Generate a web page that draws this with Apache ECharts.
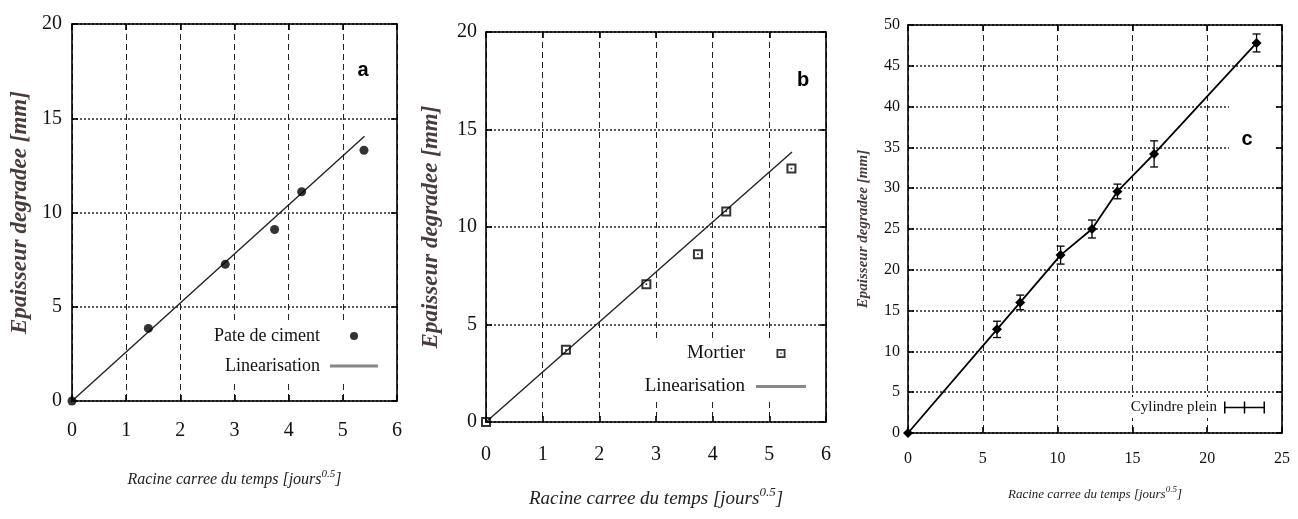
<!DOCTYPE html>
<html>
<head>
<meta charset="utf-8">
<script src="https://cdn.jsdelivr.net/npm/echarts@6/dist/echarts.min.js"></script>
<style>
html,body{margin:0;padding:0;background:#fff;}
#main{width:1298px;height:519px;}
</style>
</head>
<body>
<div id="main"></div>
<script>
// ---- Data ----
// Panel a : Pate de ciment
const xA = [0, 1.41, 2.83, 3.74, 4.24, 5.39];
const yA = [0, 3.85, 7.25, 9.1, 11.1, 13.3];
const fitAX = [0, 5.4];
const fitAY = [0, 14.05];
// Panel b : Mortier
const xB = [0, 1.41, 2.83, 3.74, 4.24, 5.39];
const yB = [0, 3.7, 7.07, 8.6, 10.8, 13.0];
const fitBX = [0, 5.4];
const fitBY = [0, 13.85];
// Panel c : Cylindre plein
const xC = [0, 5.95, 7.5, 10.2, 12.3, 14.0, 16.45, 23.3];
const yC = [0, 12.7, 16.0, 21.8, 25.0, 29.6, 34.2, 47.8];
const errC = [0, 1.0, 0.9, 1.1, 1.1, 0.9, 1.6, 1.1];
// Tick settings
const xTicksAB = [0, 1, 2, 3, 4, 5, 6];
const yTicksAB = [0, 5, 10, 15, 20];
const xTicksC = [0, 5, 10, 15, 20, 25];
const yTicksC = [0, 5, 10, 15, 20, 25, 30, 35, 40, 45, 50];
const panelLabels = ['a', 'b', 'c'];
const yTitle = 'Epaisseur degradee [mm]';
const xTitle = '{t|Racine carree du temps [jours}{s|0.5}{t|]}';

const zip = (xs, ys) => xs.map((x, i) => [x, ys[i]]);
const serif = 'Liberation Serif, Times New Roman, serif';

function axesFor(gi, ticksX, ticksY, lblY, fs, nameFs, gapX, gapY, yMarginLbl, xMarginLbl) {
  const xInt = ticksX[1] - ticksX[0], yInt = ticksY[1] - ticksY[0];
  const xMin = ticksX[0], xMax = ticksX[ticksX.length - 1];
  const yMin = ticksY[0], yMax = ticksY[ticksY.length - 1];
  const line = { show: true, onZero: false, lineStyle: { color: '#000', width: 1.6 } };
  const tick = { show: true, inside: true, length: 6, lineStyle: { color: '#000', width: 1.6 } };
  const xs = [
    {
      gridIndex: gi, type: 'value', position: 'bottom', min: xMin, max: xMax, interval: xInt,
      axisLine: line, axisTick: tick,
      axisLabel: { color: '#111', fontFamily: serif, fontSize: fs, margin: xMarginLbl },
      splitLine: { show: true, lineStyle: { color: '#222', width: 1, type: [6, 4] } },
      name: xTitle, nameLocation: 'middle', nameGap: gapX,
      nameTextStyle: {
        color: '#222',
        rich: {
          t: { fontFamily: serif, fontStyle: 'italic', fontSize: nameFs, color: '#222', lineHeight: nameFs + 6 },
          s: { fontFamily: serif, fontStyle: 'italic', fontSize: Math.round(nameFs * 0.68), color: '#222', verticalAlign: 'top', lineHeight: nameFs + 6 }
        }
      }
    },
    {
      gridIndex: gi, type: 'value', position: 'top', min: xMin, max: xMax, interval: xInt,
      axisLine: line, axisTick: tick, axisLabel: { show: false }, splitLine: { show: false }
    }
  ];
  const ys = [
    {
      gridIndex: gi, type: 'value', position: 'left', min: yMin, max: yMax, interval: yInt,
      axisLine: line, axisTick: tick,
      axisLabel: { color: '#111', fontFamily: serif, fontSize: fs, margin: yMarginLbl },
      splitLine: { show: true, lineStyle: { color: '#333', width: 1.6, type: [2, 2] } },
      name: yTitle, nameLocation: 'middle', nameGap: gapY,
      nameTextStyle: { fontFamily: serif, fontStyle: 'italic', fontWeight: 'bold', fontSize: lblY, color: '#4a3b3b' }
    },
    {
      gridIndex: gi, type: 'value', position: 'right', min: yMin, max: yMax, interval: yInt,
      axisLine: line, axisTick: tick, axisLabel: { show: false }, splitLine: { show: false }
    }
  ];
  return { xs, ys };
}

const A = axesFor(0, xTicksAB, yTicksAB, 23, 20, 16, 68, 40, 10, 20);
const B = axesFor(1, xTicksAB, yTicksAB, 23, 20, 19, 64, 43, 9, 23);
const C = axesFor(2, xTicksC, yTicksC, 15, 16, 13, 52, 37, 8, 18);

const ringSymbol = 'path://M0,0h10v10h-10z M2,2v6h6v-6z M4.2,4.2h1.6v1.6h-1.6z';
const lineIcon = 'path://M0,0h48v3h-48z';
const errIcon = 'path://M0,0h1.5v12h-1.5z M0,5.25h41v1.5h-41z M39.5,0h1.5v12h-1.5z M19.75,0h1.5v12h-1.5z';

const errData = [];
xC.forEach((x, i) => { if (errC[i] > 0) errData.push([x, yC[i] - errC[i], yC[i] + errC[i]]); });

const option = {
  backgroundColor: '#fff',
  animation: false,
  grid: [
    { left: 72, top: 24, width: 325, height: 377 },
    { left: 486, top: 32, width: 340, height: 390 },
    { left: 908, top: 25, width: 374, height: 408 }
  ],
  xAxis: [...A.xs, ...B.xs, ...C.xs],
  yAxis: [...A.ys, ...B.ys, ...C.ys],
  legend: [
    {
      orient: 'vertical', align: 'right', right: 916, top: 322, itemGap: 12,
      itemWidth: 48, itemHeight: 8, backgroundColor: '#fff', padding: [5, 4, 5, 8],
      textStyle: { fontFamily: serif, fontSize: 18, color: '#111', padding: [0, 5, 0, 0] },
      data: [
        { name: 'Pate de ciment', icon: 'circle' },
        { name: 'Linearisation', icon: lineIcon, itemStyle: { color: '#888' } }
      ],
      selectedMode: false
    },
    {
      orient: 'vertical', align: 'right', right: 488, top: 339, itemGap: 14,
      itemWidth: 50, itemHeight: 9, backgroundColor: '#fff', padding: [5, 4, 5, 8],
      textStyle: { fontFamily: serif, fontSize: 19, color: '#111', padding: [0, 6, 0, 0] },
      data: [
        { name: 'Mortier', icon: ringSymbol, itemStyle: { color: '#000' } },
        { name: 'Linearisation', icon: lineIcon, itemStyle: { color: '#888' } }
      ],
      selectedMode: false
    },
    {
      orient: 'vertical', align: 'right', right: 31, top: 397,
      itemWidth: 41, itemHeight: 12, backgroundColor: '#fff', padding: [3, 2, 3, 6],
      textStyle: { fontFamily: serif, fontSize: 15, color: '#111', padding: [0, 2, 0, 0] },
      data: [{ name: 'Cylindre plein', icon: errIcon, itemStyle: { color: '#000' } }],
      selectedMode: false
    }
  ],
  graphic: [
    { type: 'rect', z: 10, shape: { x: 1229, y: 97, width: 45, height: 56 }, style: { fill: '#fff' } },
    { type: 'text', z: 11, x: 363, y: 70, style: { text: panelLabels[0], font: 'bold 20px Liberation Sans, Arial, sans-serif', fill: '#000', align: 'center', verticalAlign: 'middle' } },
    { type: 'text', z: 11, x: 803, y: 80, style: { text: panelLabels[1], font: 'bold 20px Liberation Sans, Arial, sans-serif', fill: '#000', align: 'center', verticalAlign: 'middle' } },
    { type: 'text', z: 11, x: 1247, y: 139, style: { text: panelLabels[2], font: 'bold 20px Liberation Sans, Arial, sans-serif', fill: '#000', align: 'center', verticalAlign: 'middle' } }
  ],
  series: [
    {
      name: 'Linearisation', type: 'line', xAxisIndex: 0, yAxisIndex: 0,
      data: zip(fitAX, fitAY), showSymbol: false, symbol: 'none',
      lineStyle: { color: '#222', width: 1.4 }, itemStyle: { color: '#222' }, z: 3
    },
    {
      name: 'Pate de ciment', type: 'scatter', xAxisIndex: 0, yAxisIndex: 0,
      data: zip(xA, yA), symbol: 'circle', symbolSize: 9, itemStyle: { color: '#000' }, z: 4, clip: false
    },
    {
      name: 'Linearisation', type: 'line', xAxisIndex: 2, yAxisIndex: 2,
      data: zip(fitBX, fitBY), showSymbol: false, symbol: 'none',
      lineStyle: { color: '#222', width: 1.4 }, itemStyle: { color: '#222' }, z: 3
    },
    {
      name: 'Mortier', type: 'scatter', xAxisIndex: 2, yAxisIndex: 2,
      data: zip(xB, yB), symbol: ringSymbol, symbolSize: 10, itemStyle: { color: '#000' }, z: 4, clip: false
    },
    {
      name: 'Cylindre plein', type: 'line', xAxisIndex: 4, yAxisIndex: 4,
      data: zip(xC, yC), symbol: 'diamond', symbolSize: 10, showSymbol: true,
      lineStyle: { color: '#000', width: 1.8 }, itemStyle: { color: '#000' }, z: 4
    },
    {
      name: 'errors', type: 'custom', xAxisIndex: 4, yAxisIndex: 4,
      data: errData, encode: { x: 0, y: [1, 2] }, z: 5,
      renderItem: function (params, api) {
        const x = api.value(0);
        const top = api.coord([x, api.value(2)]);
        const bot = api.coord([x, api.value(1)]);
        const w = 4;
        const st = { stroke: '#000', lineWidth: 1.3 };
        return {
          type: 'group',
          children: [
            { type: 'line', shape: { x1: top[0], y1: top[1], x2: bot[0], y2: bot[1] }, style: st },
            { type: 'line', shape: { x1: top[0] - w, y1: top[1], x2: top[0] + w, y2: top[1] }, style: st },
            { type: 'line', shape: { x1: bot[0] - w, y1: bot[1], x2: bot[0] + w, y2: bot[1] }, style: st }
          ]
        };
      }
    }
  ]
};

const chart = echarts.init(document.getElementById('main'), null, { renderer: 'canvas' });
chart.setOption(option);
</script>
</body>
</html>
